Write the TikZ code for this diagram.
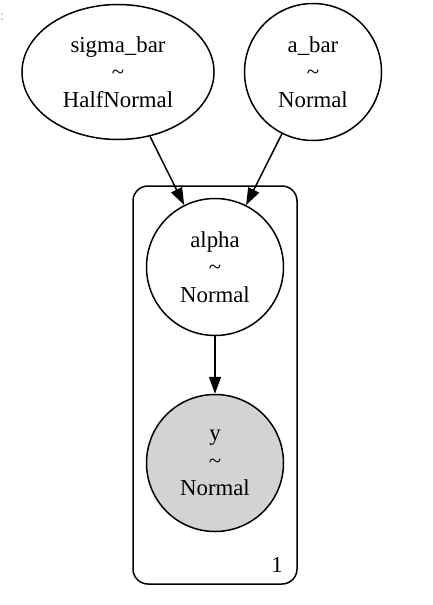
\documentclass[tikz,border=0pt]{standalone}
\usepackage{fontspec}
\setmainfont{Liberation Serif}
\usetikzlibrary{shapes.geometric,arrows.meta}
\definecolor{obsgray}{HTML}{D3D3D3}

\begin{document}
\begin{tikzpicture}[x=0.5pt,y=-0.5pt,line width=0.75pt,
  var/.style={draw,inner sep=0pt,align=center,font=\fontsize{11.4}{13.75}\selectfont},
  rv/.style={var,circle,minimum size=68.5pt},
  plate/.style={draw,rounded corners=7.5pt,minimum width=82pt,minimum height=199pt},
  edge/.style={-{Triangle[length=8.5pt,width=6pt]}}]

\useasboundingbox (0,0) rectangle (433,605);

\node (dots) at (2,17) {\color{gray!60}\fontsize{7.5}{7.5}\selectfont :};

\node[plate] (plate1) at (215,385) {};
\node[anchor=center,font=\fontsize{11.4}{13.75}\selectfont] (count) at (277,565) {1};

\node[var,ellipse,minimum width=96pt,minimum height=67.5pt] (sigmabar) at (118,72) {sigma\_bar\\\textasciitilde\\HalfNormal};
\node[rv] (abar) at (313,72) {a\_bar\\\textasciitilde\\Normal};
\node[rv] (alpha) at (215,267) {alpha\\\textasciitilde\\Normal};
\node[rv,fill=obsgray] (y) at (215,463) {y\\\textasciitilde\\Normal};

\draw[edge] (sigmabar) -- (alpha);
\draw[edge] (abar) -- (alpha);
\draw[edge] (alpha) -- (y);

\end{tikzpicture}
\end{document}
